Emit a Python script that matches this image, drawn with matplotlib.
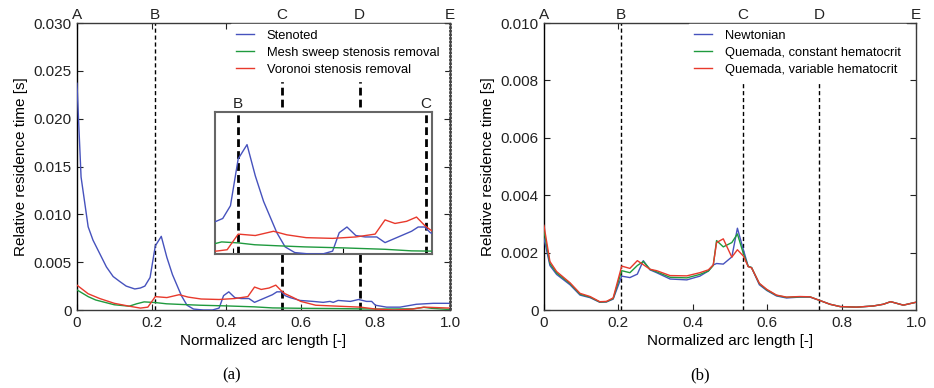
"""Relative residence time along the normalized arc length, two panels.

(a) stenoted geometry vs. two stenosis-removal methods, with an inset
    zoomed on the B-C segment.
(b) Newtonian vs. two Quemada blood models.
"""
import matplotlib.pyplot as plt
from matplotlib.ticker import FixedLocator

plt.rcParams["font.family"] = ["Liberation Sans", "DejaVu Sans"]

# ---- panel (a) data (residence time in 1e-3 s) ----
x_sten = [0, 0.011, 0.03, 0.043, 0.061, 0.079, 0.097, 0.114, 0.132, 0.155,
          0.17, 0.182, 0.196, 0.21, 0.226, 0.241, 0.256, 0.28, 0.295, 0.3125,
          0.339, 0.363, 0.381, 0.393, 0.407, 0.423, 0.44, 0.461, 0.476, 0.50,
          0.524, 0.536, 0.548, 0.558, 0.571, 0.598, 0.633, 0.66, 0.678, 0.687,
          0.70, 0.733, 0.755, 0.776, 0.79, 0.80, 0.83, 0.866, 0.91, 0.955, 1.0]
y_sten = [23.7, 13.9, 8.7, 7.3, 5.9, 4.5, 3.5, 3.0, 2.5, 2.2,
          2.3, 2.5, 3.4, 6.7, 7.7, 5.5, 3.7, 1.5, 0.5, 0.1,
          0.0, 0.0, 0.2, 1.5, 1.9, 1.3, 1.2, 1.2, 0.8, 1.2,
          1.6, 1.9, 1.9, 1.5, 1.3, 1.0, 0.9, 0.8, 0.9, 0.8,
          1.0, 0.9, 1.1, 0.9, 0.9, 0.5, 0.3, 0.3, 0.6, 0.7, 0.7]

x_mesh = [0, 0.03, 0.05, 0.1, 0.14, 0.16, 0.18, 0.21, 0.24, 0.28, 0.33,
          0.4, 0.476, 0.524, 0.6, 0.7, 0.8, 0.9, 0.93, 0.95, 1.0]
y_mesh = [2.1, 1.4, 1.05, 0.55, 0.4, 0.65, 0.85, 0.78, 0.65, 0.58, 0.5,
          0.43, 0.33, 0.22, 0.18, 0.15, 0.1, 0.12, 0.28, 0.18, 0.05]

x_vor = [0, 0.03, 0.061, 0.1, 0.14, 0.17, 0.19, 0.21, 0.241, 0.274,
         0.298, 0.333, 0.381, 0.423, 0.458, 0.476, 0.494, 0.515, 0.533, 0.548,
         0.558, 0.58, 0.6, 0.64, 0.7, 0.76, 0.8, 0.85, 0.9, 0.93, 1.0]
y_vor = [2.6, 1.7, 1.2, 0.7, 0.4, 0.2, 0.3, 1.4, 1.3, 1.6,
         1.35, 1.15, 1.1, 1.2, 1.4, 2.4, 2.15, 2.3, 2.6, 2.0,
         1.7, 1.3, 0.9, 0.5, 0.4, 0.3, 0.1, 0.0, 0.1, 0.3, 0.2]

marks_a = ["A", "B", "C", "D", "E"]
marks_a_x = [0.0, 0.209, 0.55, 0.758, 1.0]
inset_marks = ["B", "C"]
inset_marks_x = [0.209, 0.55]

# ---- panel (b) data (residence time in 1e-3 s) ----
x_b = [0, 0.016, 0.034, 0.07, 0.097, 0.124, 0.15, 0.168, 0.186, 0.209,
       0.231, 0.251, 0.267, 0.285, 0.303, 0.339, 0.384, 0.419, 0.442, 0.455,
       0.464, 0.482, 0.505, 0.52, 0.536, 0.549, 0.558, 0.579, 0.599, 0.625,
       0.652, 0.688, 0.715, 0.742, 0.769, 0.796, 0.84, 0.885, 0.912, 0.932,
       0.966, 1.0]
y_newt = [2.50, 1.55, 1.24, 0.88, 0.52, 0.43, 0.27, 0.28, 0.38, 1.18,
          1.13, 1.25, 1.72, 1.40, 1.30, 1.08, 1.05, 1.18, 1.36, 1.57,
          1.62, 1.60, 1.85, 2.85, 2.10, 1.52, 1.48, 0.88, 0.68, 0.49,
          0.42, 0.45, 0.45, 0.33, 0.20, 0.12, 0.10, 0.14, 0.20, 0.29,
          0.17, 0.27]
y_qconst = [2.75, 1.62, 1.29, 0.92, 0.55, 0.45, 0.28, 0.29, 0.40, 1.37,
            1.30, 1.55, 1.69, 1.42, 1.33, 1.14, 1.12, 1.24, 1.36, 1.55,
            2.42, 2.20, 2.35, 2.65, 1.97, 1.52, 1.48, 0.92, 0.70, 0.51,
            0.44, 0.46, 0.46, 0.33, 0.20, 0.12, 0.10, 0.14, 0.20, 0.29,
            0.17, 0.27]
y_qvar = [2.95, 1.69, 1.34, 0.95, 0.58, 0.47, 0.29, 0.30, 0.42, 1.53,
          1.45, 1.72, 1.58, 1.42, 1.37, 1.20, 1.19, 1.30, 1.40, 1.57,
          2.35, 2.48, 1.84, 2.10, 1.88, 1.51, 1.47, 0.93, 0.72, 0.52,
          0.45, 0.47, 0.46, 0.33, 0.20, 0.12, 0.10, 0.14, 0.20, 0.29,
          0.17, 0.27]

marks_b = ["A", "B", "C", "D", "E"]
marks_b_x = [0.0, 0.207, 0.534, 0.74, 1.0]

xticks = [0, 0.2, 0.4, 0.6, 0.8, 1.0]
xtick_labels = ["0", "0.2", "0.4", "0.6", "0.8", "1.0"]
yticks_a = [0, 0.005, 0.010, 0.015, 0.020, 0.025, 0.030]
ytick_labels_a = ["0", "0.005", "0.010", "0.015", "0.020", "0.025", "0.030"]
yticks_b = [0, 0.002, 0.004, 0.006, 0.008, 0.010]
ytick_labels_b = ["0", "0.002", "0.004", "0.006", "0.008", "0.010"]

BLUE, GREEN, RED = "#4652bd", "#1f9a3e", "#e8392c"
FS = 11
THIN_DASH = (0, (3, 2))
THICK_DASH = (0, (2.8, 1.5))


def ms(vals):
    return [v * 1e-3 for v in vals]


def style_axes(ax, yticks, ylabels, ymax):
    ax.set_xlim(0, 1)
    ax.set_ylim(0, ymax)
    ax.set_xticks(xticks)
    ax.set_xticklabels(xtick_labels)
    ax.set_yticks(yticks)
    ax.set_yticklabels(ylabels)
    ax.tick_params(direction="in", top=True, right=True, length=4,
                   labelsize=FS, pad=4, colors="#222222")
    for sp in ax.spines.values():
        sp.set_color("#3a3a3a")
        sp.set_linewidth(1.0)
    ax.spines["left"].set_color("black")
    ax.set_xlabel("Normalized arc length [-]", fontsize=FS, labelpad=3)
    ax.set_ylabel("Relative residence time [s]", fontsize=FS, labelpad=4)


def top_marks(ax, labels, xs, fs=FS):
    for lab, x in zip(labels, xs):
        ax.annotate(lab, xy=(x, 1.0), xycoords=("data", "axes fraction"),
                    xytext=(0, 1), textcoords="offset points",
                    ha="center", va="bottom", fontsize=fs, color="#222222",
                    annotation_clip=False)


def legend(ax, x0):
    leg = ax.legend(loc="upper left", bbox_to_anchor=(x0, 0.995),
                    fontsize=9.3, frameon=True, fancybox=False,
                    framealpha=1.0, edgecolor="white", facecolor="white",
                    handlelength=1.35, handletextpad=1.0, labelspacing=0.38,
                    borderpad=0.4, borderaxespad=0)
    leg.set_zorder(5)


def main():
    fig = plt.figure(figsize=(9.34, 3.88), dpi=100)
    ax_a = fig.add_axes([0.0824, 0.201, 0.3994, 0.7397])
    ax_b = fig.add_axes([0.5824, 0.201, 0.3983, 0.7397])

    # (a)
    ax_a.axvline(marks_a_x[1], color="black", linestyle=THIN_DASH,
                 linewidth=1.0, zorder=1)
    for x in marks_a_x[2:4]:
        ax_a.axvline(x, color="black", linestyle=THICK_DASH, linewidth=2.0,
                     zorder=1)
    # E sits on the right spine
    ax_a.axvline(marks_a_x[4], color="#444444", linestyle=(0, (0.9, 0.4)),
                 linewidth=2.0, zorder=4, clip_on=False)
    ax_a.plot(x_sten, ms(y_sten), color=BLUE, lw=1.0, zorder=3, label="Stenoted")
    ax_a.plot(x_mesh, ms(y_mesh), color=GREEN, lw=1.0, zorder=3,
              label="Mesh sweep stenosis removal")
    ax_a.plot(x_vor, ms(y_vor), color=RED, lw=1.0, zorder=3,
              label="Voronoi stenosis removal")
    style_axes(ax_a, yticks_a, ytick_labels_a, 0.030)
    top_marks(ax_a, marks_a, marks_a_x)
    legend(ax_a, 0.413)

    # inset on the B-C segment
    ax_in = fig.add_axes([0.2302, 0.3454, 0.2323, 0.366], zorder=6)
    ax_in.set_facecolor("white")
    for x in inset_marks_x:
        ax_in.axvline(x, color="black", linestyle=THICK_DASH, linewidth=2.0,
                      zorder=1)
    ax_in.plot(x_sten, ms(y_sten), color=BLUE, lw=1.0, zorder=3)
    ax_in.plot(x_mesh, ms(y_mesh), color=GREEN, lw=1.0, zorder=3)
    ax_in.plot(x_vor, ms(y_vor), color=RED, lw=1.0, zorder=3)
    ax_in.set_xlim(0.168, 0.561)
    ax_in.set_ylim(0, 0.010)
    ax_in.xaxis.set_major_locator(FixedLocator([0.2, 0.4]))
    ax_in.tick_params(direction="in", length=4, labelbottom=False,
                      left=False, labelleft=False)
    for sp in ax_in.spines.values():
        sp.set_color("#666666")
        sp.set_linewidth(1.5)
    top_marks(ax_in, inset_marks, inset_marks_x)

    # (b)
    for x in marks_b_x[1:4]:
        ax_b.axvline(x, color="black", linestyle=THIN_DASH, linewidth=1.0,
                     zorder=1)
    ax_b.plot(x_b, ms(y_newt), color=BLUE, lw=1.0, zorder=3, label="Newtonian")
    ax_b.plot(x_b, ms(y_qconst), color=GREEN, lw=1.0, zorder=3,
              label="Quemada, constant hematocrit")
    ax_b.plot(x_b, ms(y_qvar), color=RED, lw=1.0, zorder=3,
              label="Quemada, variable hematocrit")
    style_axes(ax_b, yticks_b, ytick_labels_b, 0.010)
    top_marks(ax_b, marks_b, marks_b_x)
    legend(ax_b, 0.39)

    fig.text(232 / 934, 1 - 375 / 388, "(a)", ha="center", va="center",
             fontsize=12, family=["Liberation Serif", "DejaVu Serif"])
    fig.text(700 / 934, 1 - 375 / 388, "(b)", ha="center", va="center",
             fontsize=12, family=["Liberation Serif", "DejaVu Serif"])

    fig.savefig("out.png", dpi=100)
    return 0


if __name__ == "__main__":
    raise SystemExit(main())
